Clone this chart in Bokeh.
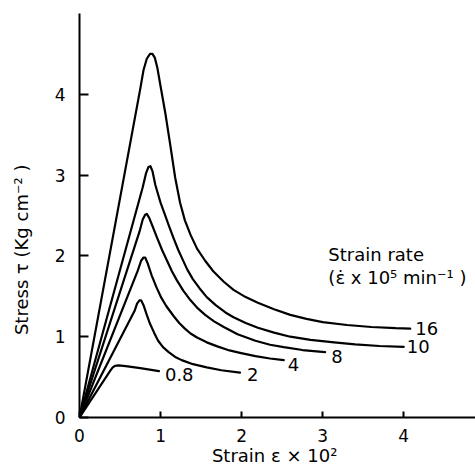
from bokeh.plotting import figure
from bokeh.models import ColumnDataSource, Range1d, FixedTicker, Label
from bokeh.core.properties import value
from bokeh.embed import file_html
from bokeh.resources import INLINE

# strain rates (x 10^5 min^-1)
rates = ["16", "10", "8", "4", "2", "0.8"]

strain_16 = [0, 0.75, 0.79, 0.83, 0.87, 0.90, 0.93, 0.96, 1.00, 1.06, 1.12, 1.18, 1.24, 1.30, 1.37, 1.45, 1.55, 1.65, 1.78, 1.90, 2.05, 2.20, 2.40, 2.60, 2.80, 3.00, 3.30, 3.60, 3.90, 4.08]
stress_16 = [0, 4.07, 4.30, 4.44, 4.50, 4.50, 4.45, 4.33, 4.10, 3.76, 3.37, 2.97, 2.66, 2.44, 2.26, 2.09, 1.94, 1.81, 1.68, 1.58, 1.49, 1.42, 1.34, 1.27, 1.22, 1.18, 1.145, 1.12, 1.105, 1.10]

strain_10 = [0, 0.78, 0.82, 0.85, 0.875, 0.90, 0.935, 0.97, 1.00, 1.05, 1.10, 1.16, 1.22, 1.27, 1.33, 1.40, 1.48, 1.57, 1.68, 1.80, 1.90, 2.05, 2.20, 2.40, 2.60, 2.85, 3.14, 3.40, 3.70, 4.00]
stress_10 = [0, 2.85, 3.02, 3.10, 3.11, 3.05, 2.88, 2.76, 2.66, 2.52, 2.38, 2.22, 2.07, 1.96, 1.83, 1.71, 1.60, 1.49, 1.39, 1.30, 1.24, 1.17, 1.11, 1.05, 1.00, 0.96, 0.93, 0.905, 0.885, 0.875]

strain_8 = [0, 0.74, 0.78, 0.81, 0.83, 0.86, 0.90, 0.955, 1.02, 1.08, 1.14, 1.20, 1.28, 1.37, 1.46, 1.55, 1.66, 1.78, 1.95, 2.17, 2.35, 2.52, 2.75, 3.03]
stress_8 = [0, 2.30, 2.45, 2.51, 2.52, 2.47, 2.37, 2.23, 2.07, 1.94, 1.81, 1.70, 1.57, 1.45, 1.35, 1.27, 1.19, 1.12, 1.03, 0.95, 0.90, 0.87, 0.835, 0.81]

strain_4 = [0, 0.72, 0.76, 0.79, 0.81, 0.84, 0.89, 0.95, 1.01, 1.07, 1.165, 1.23, 1.30, 1.37, 1.45, 1.57, 1.70, 1.85, 1.98, 2.17, 2.35, 2.52]
stress_4 = [0, 1.82, 1.94, 1.98, 1.98, 1.91, 1.76, 1.61, 1.48, 1.38, 1.25, 1.17, 1.10, 1.04, 0.99, 0.93, 0.88, 0.83, 0.80, 0.76, 0.73, 0.71]

strain_2 = [0, 0.68, 0.71, 0.74, 0.76, 0.79, 0.83, 0.87, 0.92, 0.97, 1.03, 1.10, 1.18, 1.26, 1.40, 1.57, 1.75, 1.98]
stress_2 = [0, 1.32, 1.41, 1.45, 1.45, 1.39, 1.27, 1.16, 1.05, 0.95, 0.87, 0.81, 0.75, 0.71, 0.66, 0.62, 0.585, 0.555]

strain_08 = [0, 0.38, 0.41, 0.44, 0.48, 0.57, 0.75, 0.98]
stress_08 = [0, 0.58, 0.62, 0.64, 0.645, 0.635, 0.61, 0.575]

x_ticks = [0, 1, 2, 3, 4]
y_ticks = [0, 1, 2, 3, 4]

series = {
    "16": (strain_16, stress_16),
    "10": (strain_10, stress_10),
    "8": (strain_8, stress_8),
    "4": (strain_4, stress_4),
    "2": (strain_2, stress_2),
    "0.8": (strain_08, stress_08),
}

# label placement styling (screen pixels)
label_dx = {"16": 5, "10": 3, "8": 6, "4": 4, "2": 7, "0.8": 6}
label_dy = {"16": 0, "10": 0, "8": 4, "4": 4, "2": 2, "0.8": 3}

FONT = "DejaVu Sans"
NBSP = "\u00a0"

p = figure(width=475, height=470, x_range=Range1d(0, 4.885), y_range=Range1d(0, 5.0),
           output_backend="svg", toolbar_location=None,
           min_border_left=79, min_border_right=0, min_border_top=13, min_border_bottom=53)
p.outline_line_color = None
p.grid.grid_line_color = None
p.background_fill_color = "white"
p.border_fill_color = "white"

for ax in (p.xaxis, p.yaxis):
    ax.axis_line_width = 2
    ax.axis_line_color = "black"
    ax.major_tick_line_width = 2
    ax.major_tick_line_color = "black"
    ax.minor_tick_line_color = None
    ax.major_tick_out = 0
    ax.major_label_text_font = FONT
    ax.major_label_text_font_size = "17px"
    ax.major_label_text_color = "black"
    ax.axis_label_text_font = FONT
    ax.axis_label_text_font_size = "18px"
    ax.axis_label_text_font_style = "normal"
    ax.axis_label_text_color = "black"

p.xaxis.ticker = FixedTicker(ticks=x_ticks)
p.yaxis.ticker = FixedTicker(ticks=y_ticks)
p.xaxis.major_tick_in = 6
p.yaxis.major_tick_in = 9
p.xaxis.major_label_standoff = 11
p.yaxis.major_label_standoff = 14

p.xaxis.axis_label = "Strain  \u03b5 \u00d7 10\u00b2"
p.xaxis.axis_label_standoff = 0
p.yaxis.axis_label = "Stress  \u03c4  (Kg cm\u207b\u00b2 )" + NBSP * 10
p.yaxis.axis_label_standoff = 20

for name in rates:
    xs, ys = series[name]
    p.line(xs, ys, line_color="black", line_width=2.2, line_join="round", line_cap="round")

src = ColumnDataSource(dict(
    x=[series[n][0][-1] for n in rates],
    y=[series[n][1][-1] for n in rates],
    text=rates,
    dx=[label_dx[n] for n in rates],
    dy=[label_dy[n] for n in rates],
))
p.text(x="x", y="y", text="text", x_offset="dx", y_offset="dy", source=src,
       text_font=value(FONT), text_font_size="18px", text_color="black",
       text_align="left", text_baseline="middle")

# annotation: strain rate legend
p.add_layout(Label(x=3.07, y=2.015, text="Strain rate", text_font=FONT,
                   text_font_size="18px", text_color="black", text_baseline="alphabetic"))
p.add_layout(Label(x=3.07, y=1.735, text="(\u03b5\u0307 x 10\u2075 min\u207b\u00b9 )", text_font=FONT,
                   text_font_size="18px", text_color="black", text_baseline="alphabetic"))

open("out.html", "w").write(file_html(p, INLINE))
